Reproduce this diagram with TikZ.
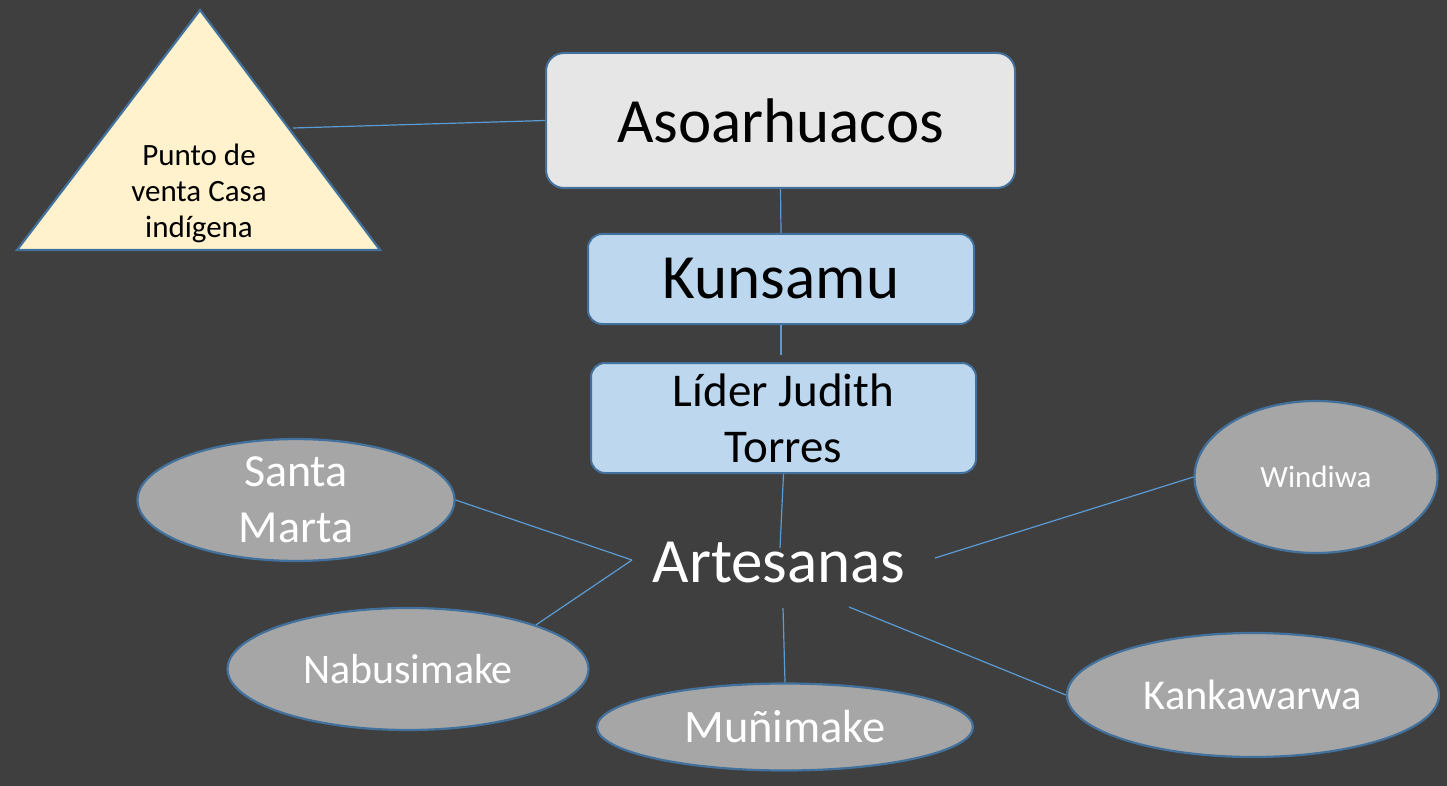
\documentclass[tikz,border=0pt]{standalone}
\usepackage{fontspec}
\setmainfont{Carlito}
\usetikzlibrary{shapes.geometric}
\definecolor{bg}{RGB}{63,63,63}
\definecolor{edgeblue}{RGB}{65,113,156}
\definecolor{linkblue}{RGB}{91,155,213}
\definecolor{greyfill}{RGB}{231,230,230}
\definecolor{bluefill}{RGB}{189,215,238}
\definecolor{yellowfill}{RGB}{255,242,204}
\definecolor{ellfill}{RGB}{166,166,166}
\tikzset{
  rbox/.style={draw=edgeblue, line width=2pt, rounded corners=18pt, inner sep=0pt, align=center, text=black},
  oval/.style={ellipse, draw=edgeblue, line width=2.2pt, fill=ellfill, inner sep=0pt, align=center, text=white},
  link/.style={draw=linkblue, line width=1.2pt},
}
\begin{document}
\begin{tikzpicture}[x=1pt,y=-1pt]
\fill[bg] (0,0) rectangle (1447,786);
\useasboundingbox (0,0) rectangle (1447,786);
% triangle
\draw[draw=edgeblue, line width=2.2pt, fill=yellowfill, line join=miter] (200,10) -- (380,250) -- (17,250) -- cycle;
\node[align=center, text=black, font=\fontsize{31}{36}\selectfont] (tri) at (199,193) {Punto de\\venta Casa\\indígena};
\coordinate (triR) at (293,128);
% boxes
\node[rbox, fill=greyfill, minimum width=469pt, minimum height=135pt, font=\fontsize{63}{70}\selectfont] (aso) at (780.5,120.5) {Asoarhuacos};
\node[rbox, fill=bluefill, minimum width=386pt, minimum height=90pt, rounded corners=14pt, font=\fontsize{63}{70}\selectfont] (kun) at (781,279) {Kunsamu};
\node[rbox, fill=bluefill, minimum width=385pt, minimum height=110pt, rounded corners=14pt, font=\fontsize{47}{56}\selectfont] (lid) at (783.5,418) {Líder Judith\\Torres};
% artesanas
\node[text=white, inner sep=0pt, font=\fontsize{63}{70}\selectfont] (art) at (779,563) {Artesanas};
\coordinate (artT) at (780,548);
\coordinate (artL) at (632,560);
\coordinate (artR) at (935,558);
\coordinate (artB) at (783,608);
\coordinate (artBR) at (849,607);
\coordinate (kunEnd) at (781,355);
% ellipses
\node[oval, minimum width=317pt, minimum height=119pt, font=\fontsize{46}{56}\selectfont] (sm) at (296,500) {Santa\\Marta};
\node[oval, minimum width=361pt, minimum height=122pt, font=\fontsize{42}{50}\selectfont] (nab) at (408,669) {Nabusimake};
\node[oval, minimum width=376pt, minimum height=87pt, font=\fontsize{46.5}{50}\selectfont] (mun) at (785,727) {Muñimake};
\node[oval, minimum width=372pt, minimum height=124pt, font=\fontsize{42.5}{50}\selectfont] (kan) at (1253,695) {Kankawarwa};
\node[oval, minimum width=243pt, minimum height=152pt, font=\fontsize{31}{40}\selectfont] (win) at (1316,477) {Windiwa};
% connectors
\draw[link] (triR) -- (aso.west);
\draw[link] (aso.south) -- (kun.north);
\draw[link] (kun.south) -- (kunEnd);
\draw[link] (lid.south) -- (artT);
\draw[link] (sm.east) -- (artL);
\draw[link] (artL) -- (nab.19);
\draw[link] (artB) -- (mun.north);
\draw[link] (artBR) -- (kan.west);
\draw[link] (artR) -- (win.west);
\end{tikzpicture}
\end{document}
